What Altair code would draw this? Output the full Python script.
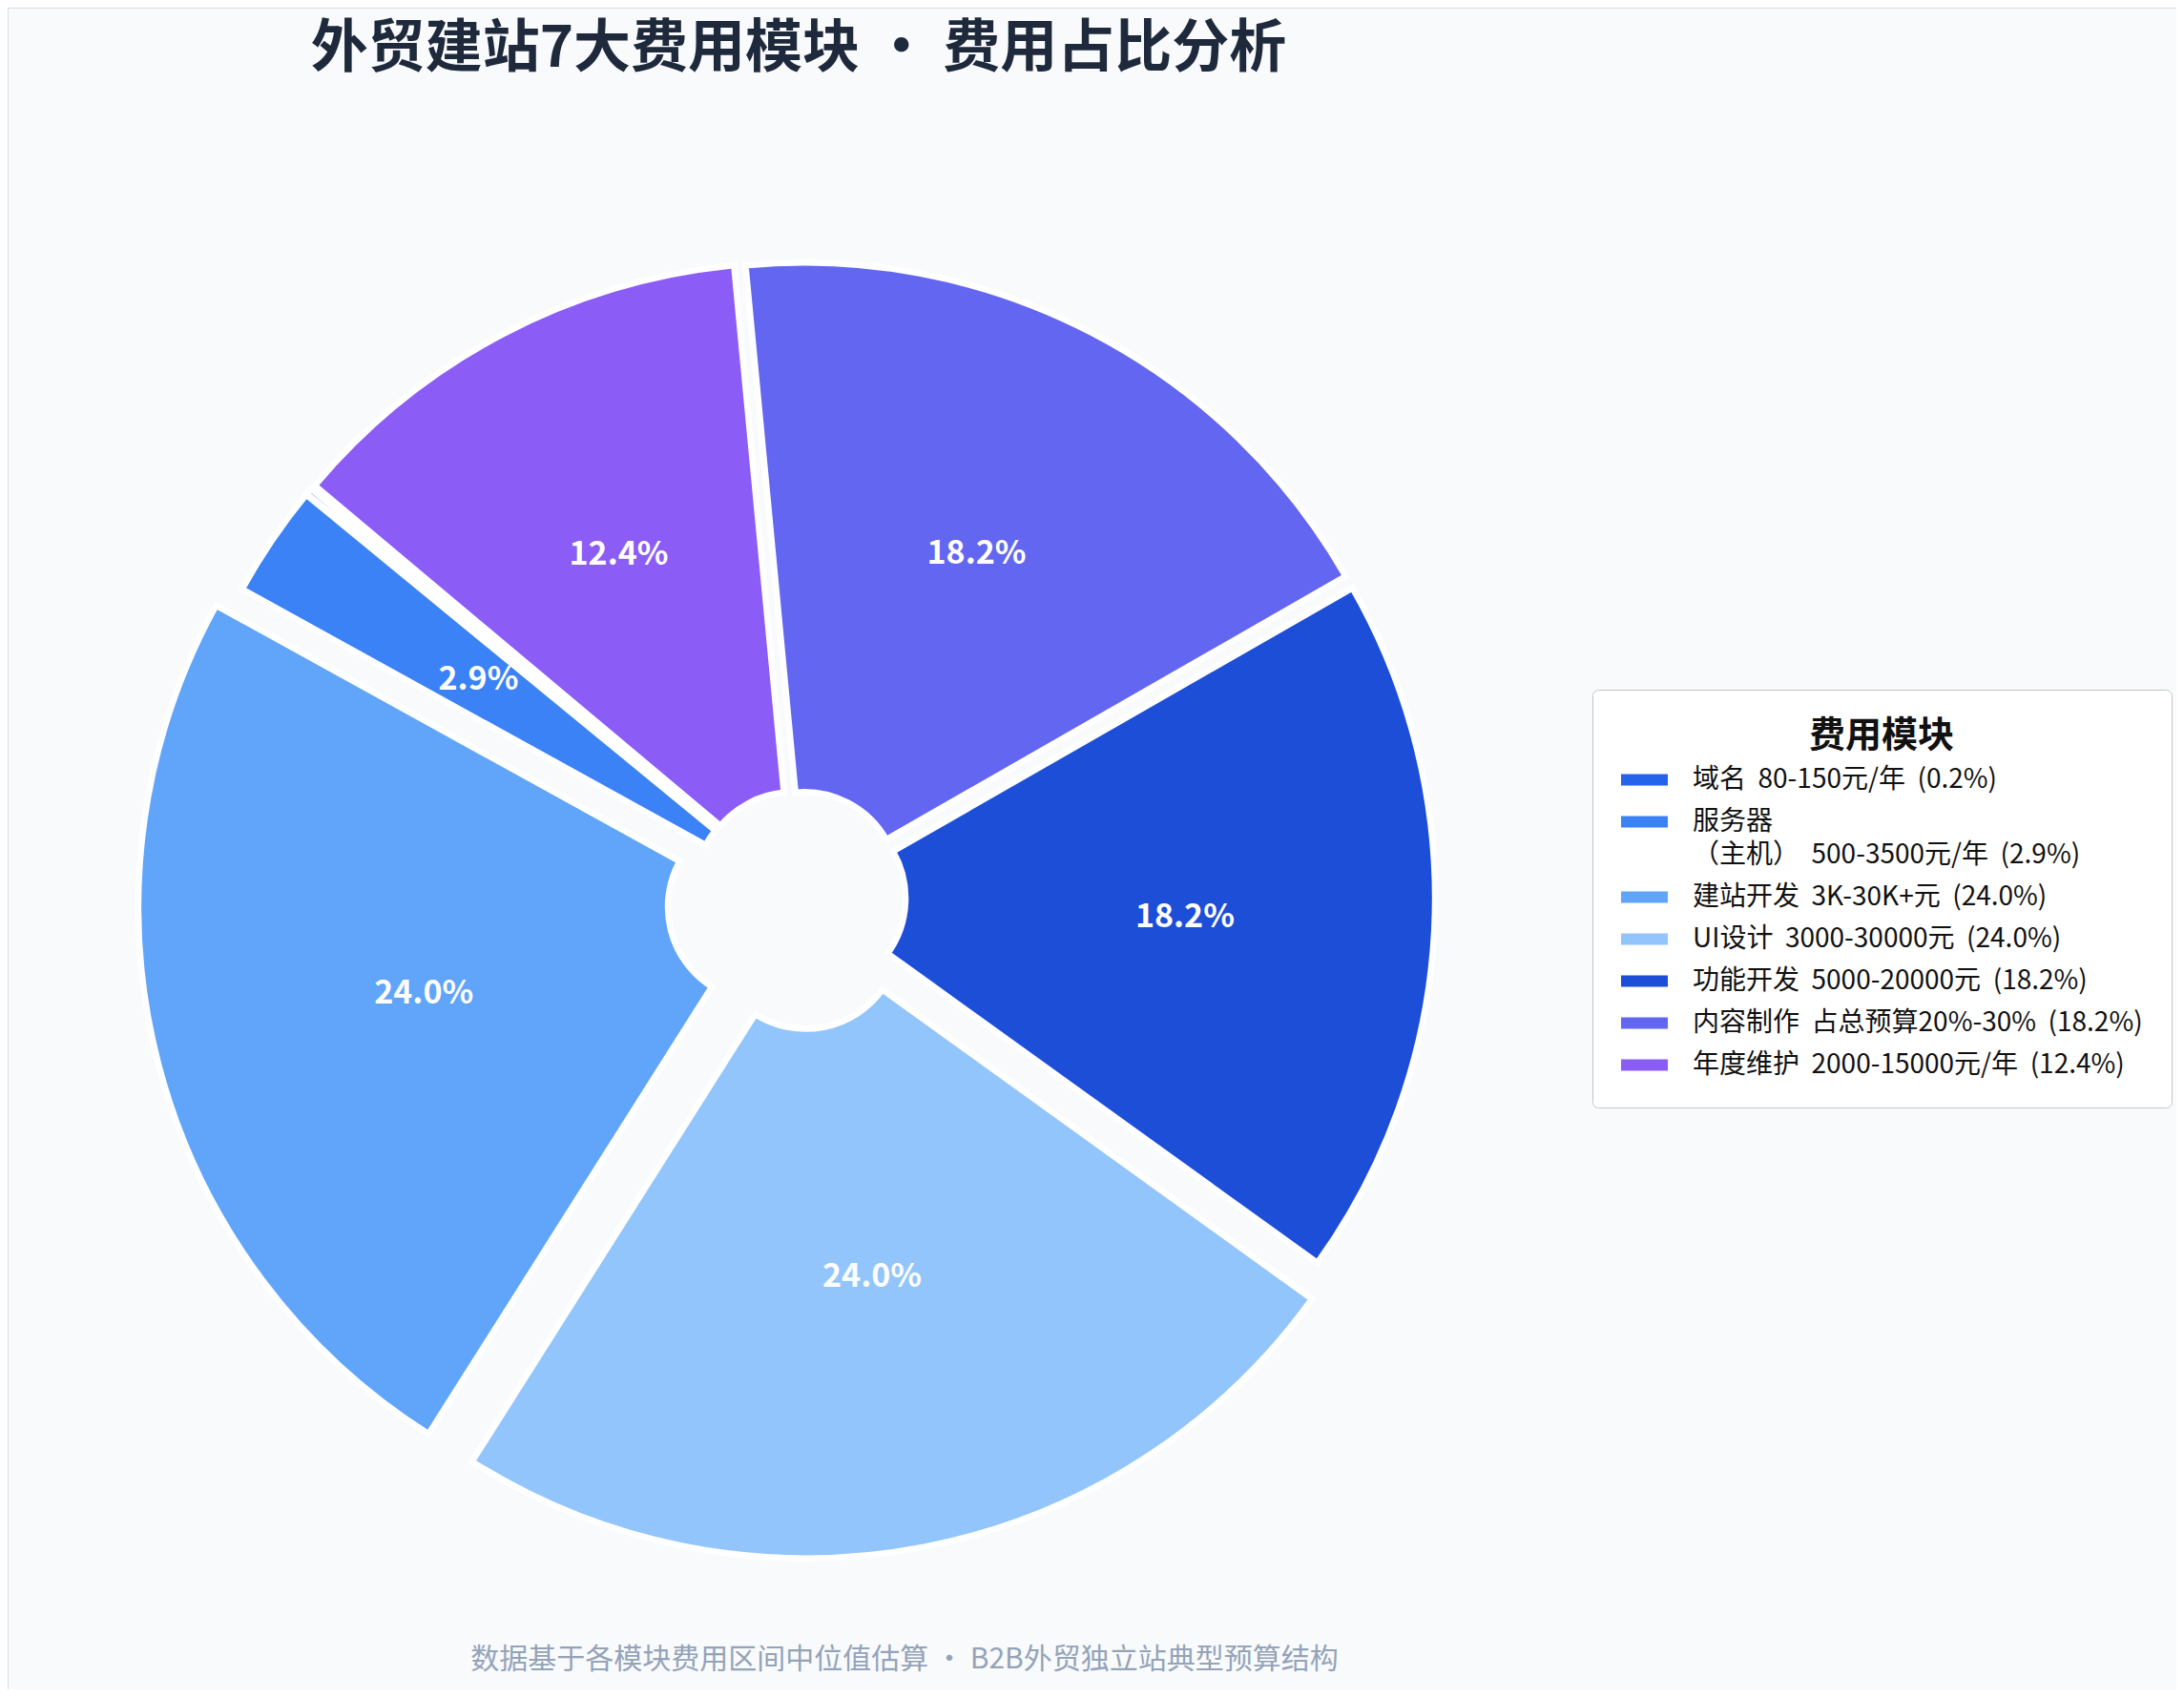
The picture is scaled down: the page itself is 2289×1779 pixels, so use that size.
import math

import pandas as pd
import altair as alt

FONT = "Noto Sans CJK SC"
BG = "#f8fafc"

# data
modules = ["域名", "服务器\n（主机）", "建站开发", "UI设计", "功能开发", "内容制作", "年度维护"]
price_ranges = ["80-150元/年", "500-3500元/年", "3K-30K+元", "3000-30000元",
                "5000-20000元", "占总预算20%-30%", "2000-15000元/年"]
mid_costs = [115, 2000, 16500, 16500, 12500, 12500, 8500]
colors = ["#2563eb", "#3b82f6", "#60a5fa", "#93c5fd", "#1d4ed8", "#6366f1", "#8b5cf6"]

title_text = "外贸建站7大费用模块 · 费用占比分析"
footnote = "数据基于各模块费用区间中位值估算 · B2B外贸独立站典型预算结构"

total = sum(mid_costs)
gap = "\u00a0\u00a0"  # svg collapses plain double spaces
legend_labels = [f"{m}{gap}{r}{gap}({v / total * 100:.1f}%)"
                 for m, r, v in zip(modules, price_ranges, mid_costs)]

df = pd.DataFrame({
    "order": list(range(len(modules))),
    "legend": legend_labels,
    "value": mid_costs,
})

# layout, in pixels of the plot area
W, H = 2273, 1763
CX, CY = 829, 933
R, R_IN = 654, 99
START = math.radians(90 - 140)  # pie starts at 140deg, runs counter-clockwise

xs = alt.Scale(domain=[-1, 1], range=[CX - R, CX + R], nice=False, zero=False)
ys = alt.Scale(domain=[-1, 1], range=[CY + R, CY - R], nice=False, zero=False)
theta_scale = alt.Scale(domain=[0, total], range=[START, START - 2 * math.pi])

base = alt.Chart(df).transform_window(
    cum1="sum(value)", sort=[alt.SortField("order")], frame=[None, 0]
).transform_joinaggregate(
    total="sum(value)", vmax="max(value)"
).transform_calculate(
    cum0="datum.cum1 - datum.value"
).transform_calculate(
    explode="datum.value == datum.vmax ? 0.06 : 0.02"
).transform_calculate(
    ang=f"{START} - 2 * PI * (datum.cum1 - datum.value / 2) / datum.total"
).transform_calculate(
    ux="datum.explode * sin(datum.ang)"
).transform_calculate(
    uy="datum.explode * cos(datum.ang)"
).transform_calculate(
    lx="0.62 * sin(datum.ang)"
).transform_calculate(
    ly="0.62 * cos(datum.ang)"
).transform_calculate(
    pct="datum.value / datum.total"
)

arcs = base.mark_arc(radius=R, innerRadius=R_IN, stroke="white", strokeWidth=6.5).encode(
    theta=alt.Theta("cum0:Q", scale=theta_scale),
    theta2="cum1:Q",
    x=alt.X("ux:Q", scale=xs, axis=None),
    y=alt.Y("uy:Q", scale=ys, axis=None),
    color=alt.Color(
        "legend:N",
        scale=alt.Scale(domain=legend_labels, range=colors),
        legend=alt.Legend(
            title="费用模块", orient="none", legendX=1661, legendY=715,
            titleFont=FONT, titleFontSize=38, titleFontWeight="bold",
            titleColor="#111111", titleAnchor="middle", titlePadding=2,
            labelFont=FONT, labelFontSize=28, labelColor="#111111",
            labelLimit=800, labelOffset=26,
            labelExpr="split(datum.label, '\\n')",
            symbolType="M-1,-0.245H1V0.245H-1Z", symbolSize=2401,
            symbolStrokeWidth=0, symbolOpacity=1,
            rowPadding=5, padding=30, cornerRadius=6,
            fillColor="white", strokeColor="#c4c4c4",
        ),
    ),
)

labels = base.transform_filter("datum.pct >= 0.01").mark_text(
    font=FONT, fontSize=34, fontWeight="bold", color="white"
).encode(
    x=alt.X("lx:Q", scale=xs, axis=None),
    y=alt.Y("ly:Q", scale=ys, axis=None),
    text=alt.Text("pct:Q", format=".1%"),
)

footer = alt.Chart(pd.DataFrame({"note": [footnote]})).mark_text(
    font=FONT, fontSize=30, color="#94a3b8"
).encode(
    x=alt.value(940), y=alt.value(1732), text="note:N"
)

chart = alt.layer(arcs, labels, footer).properties(
    width=W, height=H,
    title=alt.Title(title_text, font=FONT, fontSize=60, fontWeight="bold",
                    color="#1e293b", anchor="middle", dx=-307.5, dy=75, offset=0),
    autosize=alt.AutoSizeParams(type="none"),
    padding=0,
).configure_view(stroke=None).configure(
    background=BG, style={"guide-label": {"lineHeight": 35}}
)

chart.save("out.html", embed_options={"renderer": "svg", "actions": False})
